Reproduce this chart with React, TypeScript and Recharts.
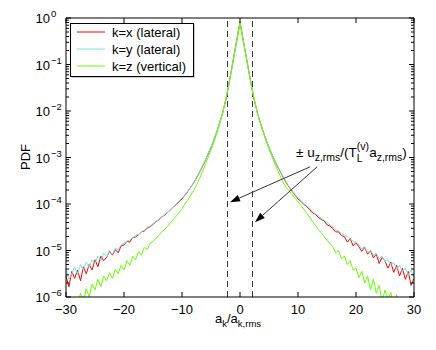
import { LineChart, Line, XAxis, YAxis, ReferenceLine } from 'recharts';

// normalised acceleration a_k / a_k,rms
const A_NORM = [
  -30, -29.5, -29, -28.5, -28, -27.5, -27, -26.5, -26, -25.5,
  -25, -24.5, -24, -23.5, -23, -22.5, -22, -21.5, -21, -20.5,
  -20, -19.5, -19, -18.5, -18, -17.5, -17, -16.5, -16, -15.5,
  -15, -14.5, -14, -13.5, -13, -12.5, -12, -11.5, -11, -10.5,
  -10, -9.5, -9, -8.5, -8, -7.5, -7, -6.5, -6, -5.5,
  -5, -4.5, -4, -3.5, -3, -2.5, -2, -1.5, -1, -0.5,
  0,
  0.5, 1, 1.5, 2, 2.5, 3, 3.5, 4, 4.5, 5,
  5.5, 6, 6.5, 7, 7.5, 8, 8.5, 9, 9.5, 10,
  10.5, 11, 11.5, 12, 12.5, 13, 13.5, 14, 14.5, 15,
  15.5, 16, 16.5, 17, 17.5, 18, 18.5, 19, 19.5, 20,
  20.5, 21, 21.5, 22, 22.5, 23, 23.5, 24, 24.5, 25,
  25.5, 26, 26.5, 27, 27.5, 28, 28.5, 29, 29.5, 30,
];

// log10(PDF)
const LOG_PDF_X_LATERAL = [
  -5.55, -5.78, -5.45, -5.6, -5.42, -5.65, -5.35, -5.5, -5.3, -5.42,
  -5.2, -5.35, -5.12, -5.22, -5.15, -5.02, -5.1, -4.98, -5.05, -4.9,
  -4.88, -4.8, -4.82, -4.72, -4.71, -4.66, -4.6, -4.58, -4.52, -4.49,
  -4.44, -4.38, -4.34, -4.28, -4.24, -4.18, -4.13, -4.06, -4.01, -3.95,
  -3.89, -3.81, -3.73, -3.64, -3.55, -3.44, -3.32, -3.2, -3.07, -2.93,
  -2.78, -2.62, -2.44, -2.25, -2.04, -1.78, -1.48, -1.13, -0.78, -0.43,
  -0.08,
  -0.43, -0.78, -1.13, -1.48, -1.78, -2.04, -2.25, -2.44, -2.62, -2.78,
  -2.93, -3.07, -3.2, -3.32, -3.44, -3.55, -3.64, -3.73, -3.81, -3.89,
  -3.94, -4.01, -4.05, -4.12, -4.19, -4.22, -4.29, -4.33, -4.36, -4.45,
  -4.47, -4.53, -4.6, -4.6, -4.68, -4.7, -4.82, -4.74, -4.9, -4.83,
  -4.92, -5.02, -4.93, -5.08, -5.0, -5.16, -5.08, -5.28, -5.15, -5.22,
  -5.38, -5.25, -5.47, -5.32, -5.55, -5.38, -5.62, -5.45, -5.75, -5.6,
];

const LOG_PDF_Y_LATERAL = [
  -5.4, -5.62, -5.5, -5.35, -5.52, -5.3, -5.42, -5.25, -5.36, -5.2,
  -5.28, -5.12, -5.22, -5.06, -5.14, -5.0, -5.08, -4.95, -4.98, -4.88,
  -4.84, -4.8, -4.77, -4.73, -4.68, -4.65, -4.6, -4.56, -4.5, -4.48,
  -4.42, -4.38, -4.33, -4.28, -4.22, -4.18, -4.12, -4.06, -4.0, -3.94,
  -3.87, -3.8, -3.72, -3.63, -3.54, -3.43, -3.31, -3.19, -3.06, -2.92,
  -2.77, -2.61, -2.44, -2.25, -2.04, -1.79, -1.49, -1.14, -0.79, -0.44,
  -0.1,
  -0.44, -0.79, -1.14, -1.49, -1.79, -2.05, -2.26, -2.45, -2.62, -2.78,
  -2.93, -3.06, -3.19, -3.31, -3.42, -3.53, -3.63, -3.71, -3.8, -3.86,
  -3.92, -3.99, -4.04, -4.09, -4.16, -4.21, -4.25, -4.31, -4.35, -4.4,
  -4.45, -4.49, -4.55, -4.58, -4.63, -4.68, -4.7, -4.76, -4.8, -4.82,
  -4.88, -4.96, -4.92, -5.04, -5.0, -5.1, -5.06, -5.18, -5.12, -5.24,
  -5.2, -5.3, -5.26, -5.4, -5.32, -5.46, -5.38, -5.52, -5.42, -5.58,
];

const LOG_PDF_Z_VERTICAL = [
  -6.35, -6.15, -6.3, -6.0, -6.2, -5.92, -6.08, -5.82, -6.0, -5.72,
  -5.85, -5.62, -5.78, -5.55, -5.65, -5.48, -5.6, -5.4, -5.5, -5.32,
  -5.42, -5.22, -5.32, -5.12, -5.2, -5.02, -5.1, -4.93, -4.98, -4.85,
  -4.8, -4.74, -4.68, -4.6, -4.55, -4.48, -4.41, -4.33, -4.26, -4.18,
  -4.1, -4.0, -3.92, -3.81, -3.71, -3.59, -3.46, -3.31, -3.16, -3.0,
  -2.84, -2.67, -2.48, -2.27, -2.05, -1.79, -1.49, -1.16, -0.82, -0.48,
  -0.12,
  -0.47, -0.81, -1.15, -1.48, -1.78, -2.04, -2.26, -2.46, -2.65, -2.82,
  -2.98, -3.14, -3.28, -3.42, -3.55, -3.65, -3.72, -3.8, -3.88, -3.95,
  -4.03, -4.11, -4.2, -4.28, -4.37, -4.46, -4.55, -4.62, -4.7, -4.78,
  -4.85, -4.92, -5.05, -5.0, -5.18, -5.12, -5.3, -5.22, -5.42, -5.38,
  -5.58, -5.45, -5.7, -5.55, -5.85, -5.62, -5.92, -5.75, -6.1, -5.85,
  -6.05, -5.9, -6.2, -5.95, -6.3, -6.1, -6.4, -6.2, -6.45, -6.3,
];

const X_TICKS = [-30, -20, -10, 0, 10, 20, 30];
const Y_DECADES = [-6, -5, -4, -3, -2, -1, 0];
const DASH_X = [-2.15, 2.15];

const FONT = '"Liberation Sans", Arial, Helvetica, sans-serif';

const data = A_NORM.map((a, i) => ({
  a,
  kx: LOG_PDF_X_LATERAL[i],
  ky: LOG_PDF_Y_LATERAL[i],
  kz: LOG_PDF_Z_VERTICAL[i],
}));

// major + minor log ticks
const Y_TICKS: number[] = [];
Y_DECADES.forEach((d) => {
  if (d === 0) {
    Y_TICKS.push(0);
    return;
  }
  for (let k = 1; k <= 9; k++) Y_TICKS.push(d + Math.log10(k));
});

const isMajor = (v: number) => Y_DECADES.some((d) => Math.abs(d - v) < 1e-9);
const minus = (n: number) => (n < 0 ? '\u2212' + Math.abs(n) : String(n));

function LeftTick(props: any) {
  const { x, y, payload } = props;
  const major = isMajor(payload.value);
  return (
    <g>
      <line x1={x} y1={y} x2={x + (major ? 5 : 3)} y2={y} stroke="#000" />
      {major && (
        <>
          <text x={x - 16} y={y + 5} textAnchor="end" fontSize={13} fontFamily={FONT} fill="#000">
            10
          </text>
          <text x={x - 15} y={y - 1} fontSize={9.5} fontFamily={FONT} fill="#000">
            {minus(Math.round(payload.value))}
          </text>
        </>
      )}
    </g>
  );
}

function RightTick(props: any) {
  const { x, y, payload } = props;
  const major = isMajor(payload.value);
  return <line x1={x} y1={y} x2={x - (major ? 5 : 3)} y2={y} stroke="#000" />;
}

function BottomTick(props: any) {
  const { x, y, payload } = props;
  return (
    <g>
      <line x1={x} y1={y} x2={x} y2={y - 5} stroke="#000" />
      <text x={x} y={y + 17} textAnchor="middle" fontSize={13} fontFamily={FONT} fill="#000">
        {minus(payload.value)}
      </text>
    </g>
  );
}

function TopTick(props: any) {
  const { x, y } = props;
  return <line x1={x} y1={y} x2={x} y2={y + 5} stroke="#000" />;
}

function Arrow(props: any) {
  const { x1, y1, x2, y2 } = props;
  const ang = Math.atan2(y2 - y1, x2 - x1);
  const len = 10;
  const w = 3.5;
  const bx = x2 - len * Math.cos(ang);
  const by = y2 - len * Math.sin(ang);
  const px = -Math.sin(ang) * w;
  const py = Math.cos(ang) * w;
  return (
    <g>
      <line x1={x1} y1={y1} x2={bx} y2={by} stroke="#333" strokeWidth={1} />
      <polygon points={`${x2},${y2} ${bx + px},${by + py} ${bx - px},${by - py}`} fill="#000" />
    </g>
  );
}

const LEGEND = [
  { label: 'k=x (lateral)', color: '#ff0000' },
  { label: 'k=y (lateral)', color: '#70e8dc' },
  { label: 'k=z (vertical)', color: '#66ff00' },
];

export default function App() {
  return (
    <div style={{ position: 'absolute', left: 0, top: 0, width: 436, height: 350, background: '#fff' }}>
      <LineChart
        width={436}
        height={350}
        data={data}
        margin={{ top: 17, right: 21, bottom: 0, left: 0 }}
        style={{ fontFamily: FONT }}
      >
        <XAxis
          dataKey="a"
          type="number"
          domain={[-30, 30]}
          ticks={X_TICKS}
          interval={0}
          height={53}
          tickSize={0}
          tickMargin={0}
          tickLine={false}
          tick={<BottomTick />}
          axisLine={{ stroke: '#000' }}
        />
        <XAxis
          xAxisId="top"
          orientation="top"
          dataKey="a"
          type="number"
          domain={[-30, 30]}
          ticks={X_TICKS}
          interval={0}
          height={1}
          tickSize={0}
          tickMargin={0}
          tickLine={false}
          tick={<TopTick />}
          axisLine={{ stroke: '#000' }}
        />
        <YAxis
          type="number"
          domain={[-6, 0]}
          allowDataOverflow
          ticks={Y_TICKS}
          interval={0}
          width={66}
          tickSize={0}
          tickMargin={0}
          tickLine={false}
          tick={<LeftTick />}
          axisLine={{ stroke: '#000' }}
        />
        <YAxis
          yAxisId="r"
          orientation="right"
          type="number"
          domain={[-6, 0]}
          allowDataOverflow
          ticks={Y_TICKS}
          interval={0}
          width={1}
          tickSize={0}
          tickMargin={0}
          tickLine={false}
          tick={<RightTick />}
          axisLine={{ stroke: '#000' }}
        />
        {DASH_X.map((x) => (
          <ReferenceLine key={x} x={x} stroke="#333" strokeDasharray="6 4" />
        ))}
        <Line dataKey="kx" stroke="#ff0000" strokeWidth={1} dot={false} isAnimationActive={false} />
        <Line dataKey="ky" stroke="#70e8dc" strokeWidth={1} dot={false} isAnimationActive={false} />
        <Line dataKey="kz" stroke="#66ff00" strokeWidth={1} dot={false} isAnimationActive={false} />
        <ReferenceLine
          segment={[{ x: 12.1, y: -3.2 }, { x: -1.72, y: -3.96 }]}
          shape={<Arrow />}
        />
        <ReferenceLine
          segment={[{ x: 13.3, y: -3.2 }, { x: 2.59, y: -4.39 }]}
          shape={<Arrow />}
        />
      </LineChart>
      <svg
        width={436}
        height={350}
        style={{ position: 'absolute', left: 0, top: 0, pointerEvents: 'none' }}
        fontFamily={FONT}
        fill="#000"
      >
        {/* legend */}
        <rect x={71.5} y={24.5} width={123} height={53} fill="#999" />
        <rect x={70.5} y={23.5} width={123} height={53} fill="#fff" stroke="#000" />
        {LEGEND.map((l, i) => {
          const cy = 32 + i * 17;
          return (
            <g key={l.label}>
              <line x1={77} y1={cy} x2={105} y2={cy} stroke={l.color} strokeWidth={1} />
              <text x={112} y={cy + 4.5} fontSize={13}>
                {l.label}
              </text>
            </g>
          );
        })}
        {/* annotation */}
        <text x={296} y={157} fontSize={13.5}>
          ± u
          <tspan fontSize={10.5} dy={4}>z,rms</tspan>
          <tspan dy={-4}>/(T</tspan>
          <tspan fontSize={10.5} dy={-7}>(v)</tspan>
          <tspan fontSize={10.5} dx={-12.3} dy={12}>L</tspan>
          <tspan dx={6.5} dy={-5}>a</tspan>
          <tspan fontSize={10.5} dy={4}>z,rms</tspan>
          <tspan dy={-4}>)</tspan>
        </text>
        {/* axis labels */}
        <text x={215} y={323} fontSize={13}>
          a<tspan fontSize={9.5} dy={4}>k</tspan>
          <tspan dy={-4}>/a</tspan>
          <tspan fontSize={9.5} dy={4}>k,rms</tspan>
        </text>
        <text transform="translate(30,157) rotate(-90)" textAnchor="middle" fontSize={13}>
          PDF
        </text>
      </svg>
    </div>
  );
}
